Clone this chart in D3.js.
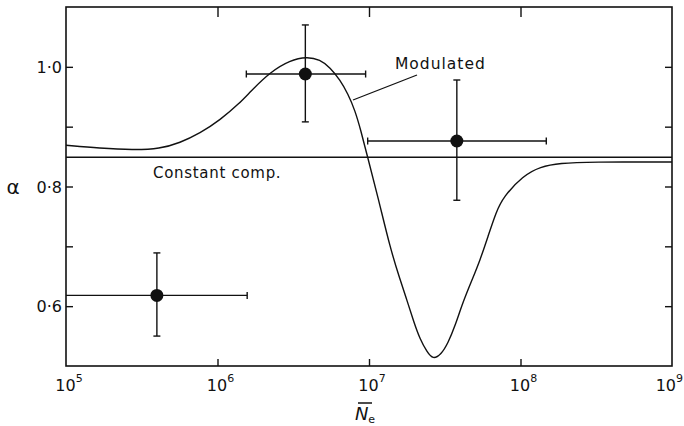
<!DOCTYPE html>
<html>
<head>
<meta charset="utf-8">
<script src="https://cdn.jsdelivr.net/npm/d3@7"></script>
<style>
  html, body { margin: 0; padding: 0; background: #fff; }
  svg { display: block; }
  text { font-family: "DejaVu Sans", sans-serif; fill: #111; }
</style>
</head>
<body>
<svg id="chart" width="684" height="426"></svg>
<script>
// ---- Data ----
const xTickValues = [1e5, 1e6, 1e7, 1e8, 1e9];
const xTickExponents = ["5", "6", "7", "8", "9"];
const yMajorTicks = [0.6, 0.8, 1.0];
const yMajorLabels = ["0·6", "0·8", "1·0"];
const yMinorTicks = [0.7, 0.9];

// Modulated curve
const curveN = [1.00e5, 1.67e5, 2.77e5, 4.17e5, 5.65e5, 7.66e5, 1.04e6, 1.41e6, 1.64e6, 2.22e6,
                3.01e6, 3.90e6, 4.75e6, 5.53e6, 6.44e6, 7.26e6, 8.09e6, 8.85e6, 9.70e6, 1.15e7,
                1.38e7, 1.60e7, 1.78e7, 1.98e7, 2.17e7, 2.42e7, 2.64e7, 2.99e7, 3.32e7, 3.70e7,
                4.17e7, 4.79e7, 5.41e7, 6.11e7, 6.90e7, 7.67e7, 1.04e8, 1.35e8, 1.82e8, 2.88e8,
                1.00e9];
const curveAlpha = [0.869, 0.864, 0.861, 0.863, 0.873, 0.889, 0.911, 0.940, 0.958, 0.991,
                    1.011, 1.017, 1.012, 0.999, 0.978, 0.955, 0.927, 0.893, 0.853, 0.781,
                    0.697, 0.645, 0.610, 0.573, 0.545, 0.523, 0.511, 0.519, 0.538, 0.567,
                    0.607, 0.644, 0.677, 0.717, 0.757, 0.782, 0.818, 0.833, 0.839, 0.841,
                    0.841];

// Constant comp. level
const constantAlpha = 0.849;

// Measured points with error bars
const pointN       = [3.98e5, 3.80e6, 3.80e7];
const pointAlpha   = [0.618, 0.988, 0.876];
const pointAlphaLo = [0.550, 0.908, 0.777];
const pointAlphaHi = [0.689, 1.070, 0.978];
const pointNLo     = [8.0e4, 1.55e6, 9.8e6];
const pointNHi     = [1.57e6, 9.5e6, 1.48e8];

// ---- Layout ----
const W = 684, H = 426;
const margin = { left: 66, right: 12, top: 7, bottom: 60 };
const x = d3.scaleLog().domain([1e5, 1e9]).range([margin.left, W - margin.right]);
const y = d3.scaleLinear().domain([0.5, 1.1]).range([H - margin.bottom, margin.top]);

const svg = d3.select("#chart");
const ink = "#111";

svg.append("defs").append("clipPath").attr("id", "plotclip")
  .append("rect")
  .attr("x", x.range()[0]).attr("y", y.range()[1])
  .attr("width", x.range()[1] - x.range()[0])
  .attr("height", y.range()[0] - y.range()[1]);

// Frame
svg.append("rect")
  .attr("x", x.range()[0]).attr("y", y.range()[1])
  .attr("width", x.range()[1] - x.range()[0])
  .attr("height", y.range()[0] - y.range()[1])
  .attr("fill", "none").attr("stroke", ink).attr("stroke-width", 1.6);

// Axes (inward ticks) using d3 axes
const tickLen = 7;
const innerX = xTickValues.slice(1, -1);
svg.append("g").attr("transform", `translate(0,${y.range()[0]})`)
  .call(d3.axisTop(x).tickValues(innerX).tickSize(tickLen).tickFormat(""))
  .call(g => g.select(".domain").remove())
  .call(g => g.selectAll("line").attr("stroke", ink).attr("stroke-width", 1.4));
svg.append("g").attr("transform", `translate(0,${y.range()[1]})`)
  .call(d3.axisBottom(x).tickValues(innerX).tickSize(10).tickFormat(""))
  .call(g => g.select(".domain").remove())
  .call(g => g.selectAll("line").attr("stroke", ink).attr("stroke-width", 1.4));

const allY = yMajorTicks.concat(yMinorTicks);
svg.append("g").attr("transform", `translate(${x.range()[0]},0)`)
  .call(d3.axisRight(y).tickValues(allY).tickSize(tickLen).tickFormat(""))
  .call(g => g.select(".domain").remove())
  .call(g => g.selectAll("line").attr("stroke", ink).attr("stroke-width", 1.4));
svg.append("g").attr("transform", `translate(${x.range()[1]},0)`)
  .call(d3.axisLeft(y).tickValues(allY).tickSize(tickLen).tickFormat(""))
  .call(g => g.select(".domain").remove())
  .call(g => g.selectAll("line").attr("stroke", ink).attr("stroke-width", 1.4));

// Y tick labels
svg.append("g").selectAll("text").data(yMajorTicks).join("text")
  .attr("x", x.range()[0] - 4)
  .attr("y", d => y(d) + 6)
  .attr("text-anchor", "end")
  .attr("font-size", 16)
  .text((d, i) => yMajorLabels[i]);

// X tick labels
const xl = svg.append("g").selectAll("text").data(xTickValues).join("text")
  .attr("x", (d, i) => i === xTickValues.length - 1 ? W - 1 : x(d) + 3)
  .attr("y", y.range()[0] + 25)
  .attr("text-anchor", (d, i) => i === xTickValues.length - 1 ? "end" : "middle")
  .attr("font-size", 16);
xl.append("tspan").text("10");
xl.append("tspan").attr("dy", -9).attr("font-size", 11).text((d, i) => xTickExponents[i]);

// Axis titles
svg.append("text").attr("x", 13).attr("y", 194).attr("text-anchor", "middle")
  .attr("font-size", 20).text("α");
const xt = svg.append("text").attr("x", 365).attr("y", 420).attr("text-anchor", "middle")
  .attr("font-size", 18).attr("font-style", "italic");
xt.append("tspan").text("N");
xt.append("tspan").attr("dy", 3).attr("font-size", 11).attr("font-style", "normal").text("e");
svg.append("line").attr("x1", 358).attr("x2", 372).attr("y1", 403).attr("y2", 403)
  .attr("stroke", ink).attr("stroke-width", 1.5);

const plot = svg.append("g").attr("clip-path", "url(#plotclip)");

// Constant comp. line
plot.append("line")
  .attr("x1", x.range()[0]).attr("x2", x.range()[1])
  .attr("y1", y(constantAlpha)).attr("y2", y(constantAlpha))
  .attr("stroke", ink).attr("stroke-width", 1.5);

// Modulated curve
const curveData = curveN.map((n, i) => [n, curveAlpha[i]]);
plot.append("path").datum(curveData)
  .attr("fill", "none").attr("stroke", ink).attr("stroke-width", 1.4)
  .attr("d", d3.line().x(d => x(d[0])).y(d => y(d[1])).curve(d3.curveBasis));

// Error bars + points
const pts = pointN.map((n, i) => ({ n, a: pointAlpha[i], alo: pointAlphaLo[i], ahi: pointAlphaHi[i], nlo: pointNLo[i], nhi: pointNHi[i] }));
const cap = 3.5;
const eb = plot.append("g").attr("stroke", ink).attr("stroke-width", 1.4);
pts.forEach(p => {
  eb.append("line").attr("x1", x(p.nlo)).attr("x2", x(p.nhi)).attr("y1", y(p.a)).attr("y2", y(p.a));
  eb.append("line").attr("x1", x(p.n)).attr("x2", x(p.n)).attr("y1", y(p.alo)).attr("y2", y(p.ahi));
  [p.nlo, p.nhi].forEach(v => eb.append("line").attr("x1", x(v)).attr("x2", x(v)).attr("y1", y(p.a) - cap).attr("y2", y(p.a) + cap));
  [p.alo, p.ahi].forEach(v => eb.append("line").attr("x1", x(p.n) - cap).attr("x2", x(p.n) + cap).attr("y1", y(v)).attr("y2", y(v)));
});
plot.append("g").selectAll("circle").data(pts).join("circle")
  .attr("cx", d => x(d.n)).attr("cy", d => y(d.a)).attr("r", 6.5).attr("fill", ink);

// Annotations
svg.append("text").attr("x", 395).attr("y", 69).attr("font-size", 15.5)
  .attr("letter-spacing", 1).text("Modulated");
svg.append("line").attr("x1", 353).attr("y1", 100).attr("x2", 417).attr("y2", 75)
  .attr("stroke", ink).attr("stroke-width", 1.3);
svg.append("text").attr("x", 153).attr("y", 178).attr("font-size", 15)
  .attr("letter-spacing", 0.7).text("Constant comp.");
</script>
</body>
</html>
